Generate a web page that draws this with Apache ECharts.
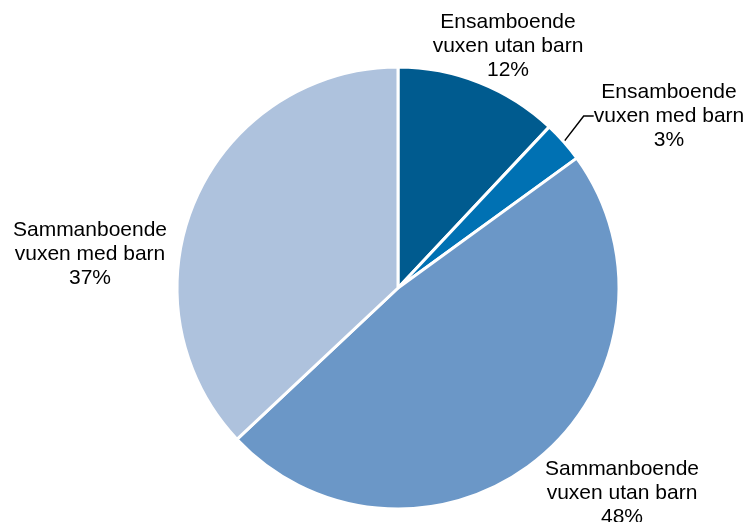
<!DOCTYPE html>
<html>
<head>
<meta charset="utf-8">
<script src="https://cdn.jsdelivr.net/npm/echarts@6/dist/echarts.min.js"></script>
<style>
html,body{margin:0;padding:0;background:#fff;}
#c{width:747px;height:522px;}
</style>
</head>
<body>
<div id="c"></div>
<script>
const categories = ['Ensamboende\nvuxen utan barn', 'Ensamboende\nvuxen med barn', 'Sammanboende\nvuxen utan barn', 'Sammanboende\nvuxen med barn'];
const values = [12, 3, 48, 37];
const colors = ['#005B8F', '#0071B3', '#6B97C7', '#AEC2DD'];
const labelPos = [[508, 46], [669, 116], [622, 493], [90, 254]];

const chart = echarts.init(document.getElementById('c'));
chart.setOption({
  animation: false,
  series: [{
    type: 'pie',
    center: [398, 288],
    radius: 221,
    startAngle: 90,
    clockwise: true,
    edgeDistance: 0,
    data: categories.map((n, i) => ({
      name: n,
      value: values[i],
      itemStyle: { color: colors[i] },
      labelLine: { show: i === 1 }
    })),
    itemStyle: { borderColor: '#fff', borderWidth: 3 },
    label: {
      show: true,
      position: 'outside',
      formatter: p => p.name + '\n' + p.value + '%',
      fontFamily: 'Liberation Sans, Arial, sans-serif',
      fontSize: 21,
      lineHeight: 24,
      color: '#000',
      align: 'center',
      overflow: 'none'
    },
    labelLine: {
      show: false,
      lineStyle: { color: '#000', width: 1.5 },
      length: 10,
      length2: 10
    },
    labelLayout: function (params) {
      const p = labelPos[params.dataIndex];
      return { x: p[0], y: p[1], align: 'center', verticalAlign: 'middle' };
    }
  }]
});
</script>
</body>
</html>
